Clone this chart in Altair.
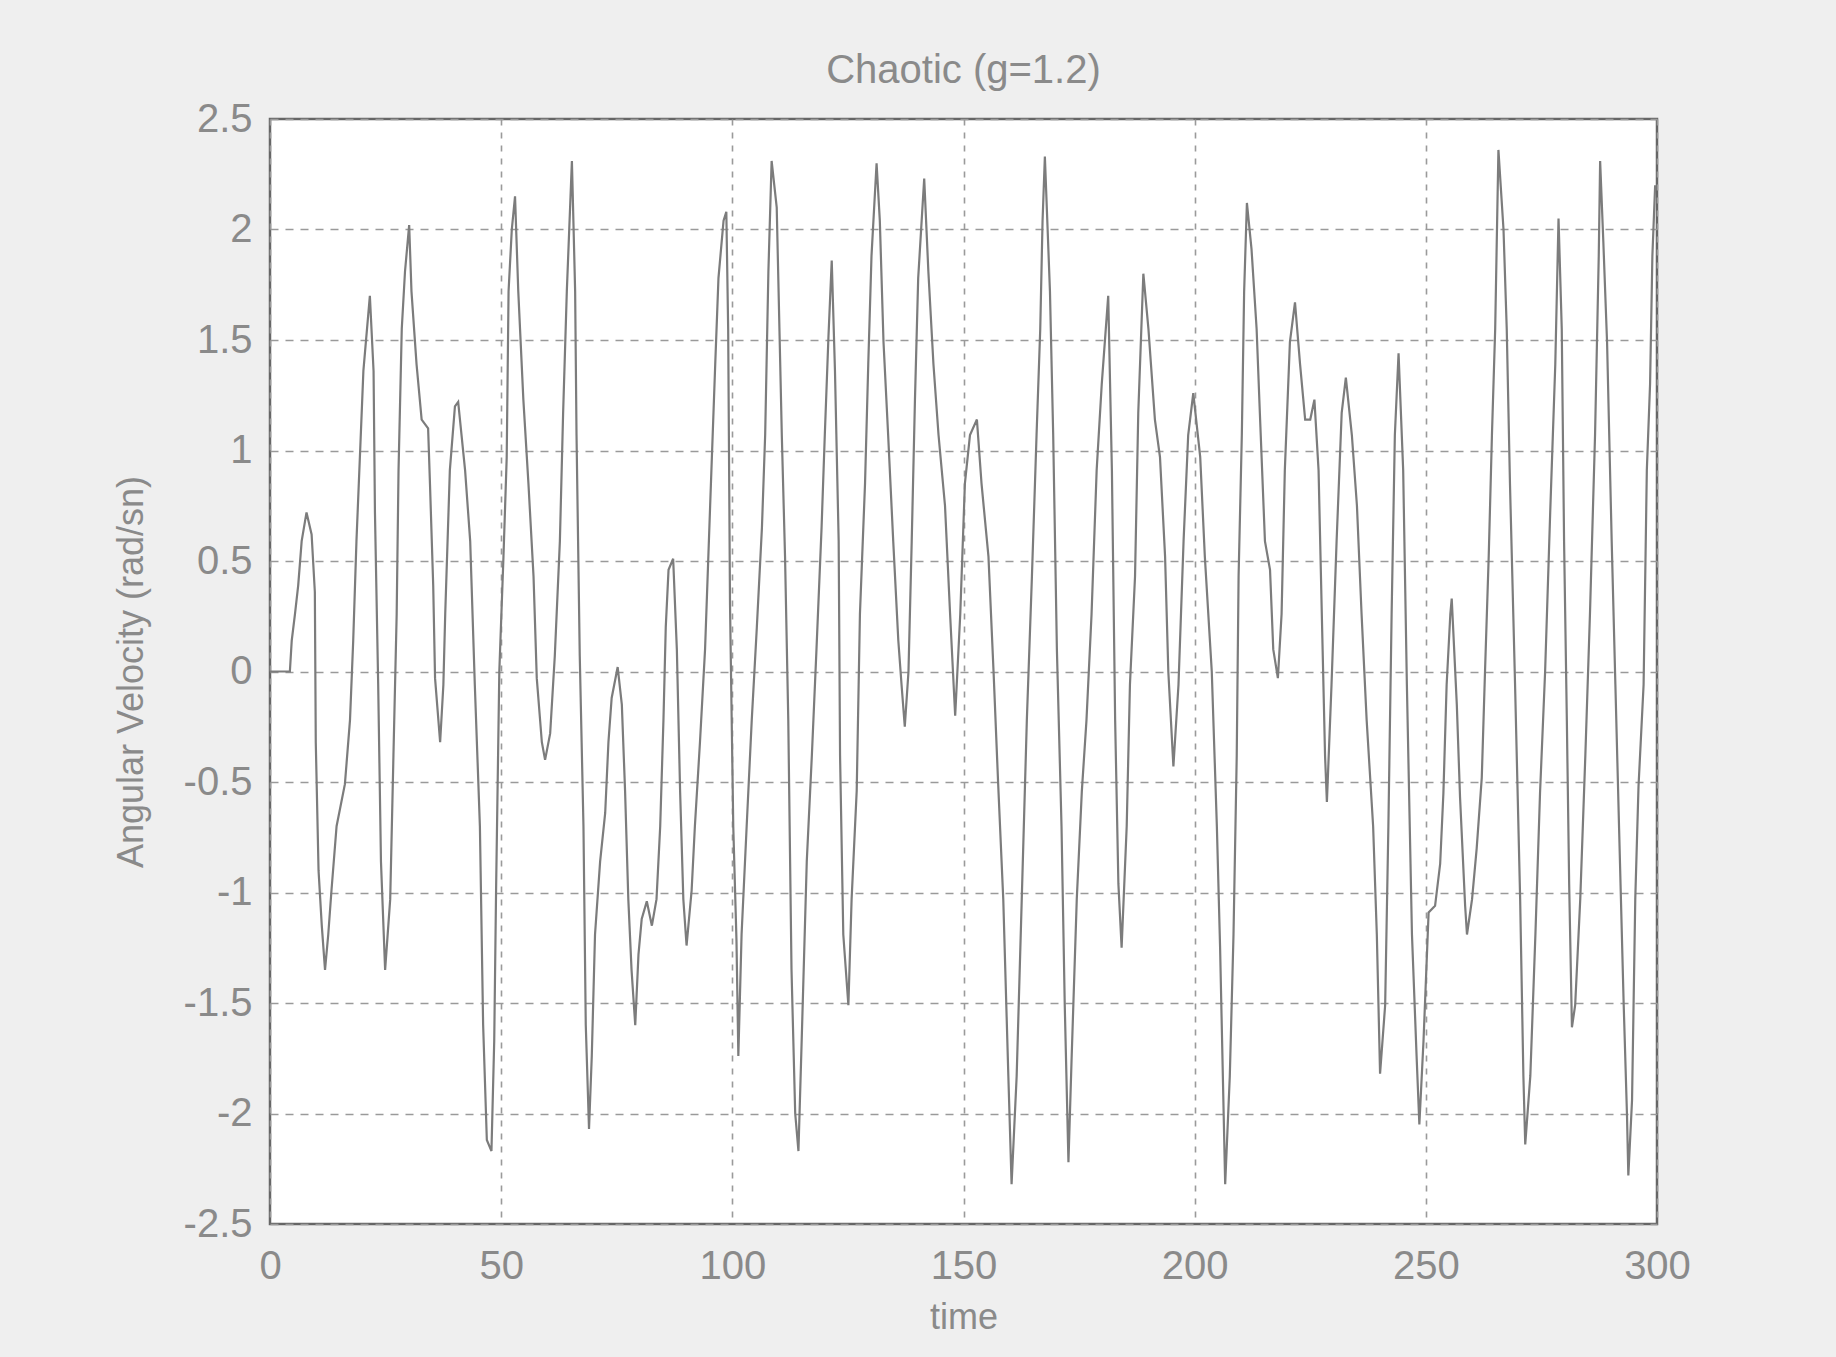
import altair as alt
import pandas as pd

title_text = "Chaotic (g=1.2)"
x_title = "time"
y_title = "Angular Velocity (rad/sn)"
x_ticks = [0, 50, 100, 150, 200, 250, 300]
y_ticks = [-2.5, -2, -1.5, -1, -0.5, 0, 0.5, 1, 1.5, 2, 2.5]

t_seg1 = [0, 4.3, 4.7, 5.4, 6.1, 6.85, 7.9, 9.0, 9.7, 9.9, 10.5, 11.2, 11.9, 12.6, 13.3, 14.4, 16.2,
          17.3, 18.0, 18.7, 19.5, 20.2, 21.6, 22.4, 22.7, 23.4, 24.0, 24.9, 26.0, 26.7, 27.4, 27.8,
          28.5, 29.2, 30.1, 30.6, 31.7, 32.8, 34.2, 34.6, 35.3, 35.7, 36.8, 37.5, 37.9, 38.9, 40.0,
          40.7, 42.2, 43.3, 44.3, 45.4, 46.1, 46.9, 47.9, 48.5]
v_seg1 = [0, 0, 0.14, 0.26, 0.39, 0.59, 0.72, 0.62, 0.36, -0.32, -0.9, -1.15, -1.35, -1.19, -0.99,
          -0.7, -0.51, -0.22, 0.14, 0.59, 1.0, 1.36, 1.7, 1.36, 0.72, -0.06, -0.86, -1.35, -1.03,
          -0.38, 0.26, 0.91, 1.55, 1.81, 2.02, 1.72, 1.39, 1.14, 1.1, 0.85, 0.39, -0.03, -0.32,
          -0.06, 0.26, 0.91, 1.2, 1.22, 0.91, 0.59, -0.06, -0.7, -1.6, -2.12, -2.17, -1.67]

t_seg2 = [48.9, 49.6, 50.5, 51.2, 51.6, 52.3, 53.0, 53.7, 54.8, 55.9, 57.0, 57.7, 58.8, 59.5, 60.6,
          61.6, 62.7, 63.4, 64.2, 65.3, 66.0, 66.3, 67.0, 67.8, 68.3, 69.0, 69.6, 70.3, 71.4, 72.5,
          73.2, 73.9, 75.2, 76.1, 76.8, 77.5, 78.2, 79.0, 79.7, 80.4, 81.5, 82.6, 83.6, 84.4, 85.1,
          85.6, 86.2, 87.2, 88.0, 88.7, 89.4, 90.1, 91.2, 91.9, 93.0, 94.1, 95.2, 96.3, 97.0, 98.1,
          98.7]
v_seg2 = [-0.99, 0.0, 0.52, 0.97, 1.72, 2.0, 2.15, 1.72, 1.23, 0.85, 0.43, -0.03, -0.32, -0.4,
          -0.28, 0.07, 0.59, 1.17, 1.72, 2.31, 1.72, 1.07, 0.07, -0.7, -1.6, -2.07, -1.74, -1.19,
          -0.86, -0.64, -0.32, -0.12, 0.02, -0.15, -0.54, -1.03, -1.35, -1.6, -1.28, -1.12, -1.04,
          -1.15, -1.03, -0.7, -0.22, 0.2, 0.46, 0.51, 0.1, -0.54, -1.03, -1.24, -0.99, -0.7, -0.32,
          0.1, 0.75, 1.39, 1.78, 2.04, 2.08]

t_seg3 = [99.1, 99.5, 100.2, 100.9, 101.3, 102.0, 103.1, 104.2, 105.3, 106.4, 107.1, 107.8, 108.5,
          109.6, 110.7, 111.4, 112.1, 112.8, 113.6, 114.3, 115.0, 116.1, 117.2, 118.2, 119.3,
          120.0, 120.8, 121.5, 122.2, 123.0, 123.3, 124.0, 125.1, 125.8, 126.9, 127.6, 128.7,
          129.4, 130.1, 131.2, 131.9, 132.7, 133.7, 134.8, 135.9, 136.6, 137.3, 138.1, 138.8,
          139.5, 140.2, 141.5, 142.4, 143.5, 144.6, 146.0, 147.1, 148.2]
v_seg3 = [1.55, 0.3, -0.7, -1.22, -1.74, -1.19, -0.7, -0.22, 0.2, 0.65, 1.07, 1.81, 2.31, 2.1,
          1.07, 0.52, -0.22, -1.35, -2.0, -2.17, -1.67, -0.86, -0.38, 0.1, 0.65, 1.07, 1.52, 1.86,
          1.36, 0.59, -0.38, -1.19, -1.51, -1.03, -0.54, 0.26, 0.85, 1.39, 1.88, 2.3, 2.04, 1.49,
          1.07, 0.59, 0.14, -0.06, -0.25, 0.0, 0.59, 1.23, 1.78, 2.23, 1.81, 1.39, 1.07, 0.75,
          0.26, -0.2]

t_seg4 = [149.3, 150.3, 151.4, 152.9, 153.9, 155.4, 156.5, 157.5, 158.6, 159.7, 160.4, 161.5,
          162.6, 163.7, 164.8, 165.8, 166.6, 167.1, 167.6, 168.7, 169.4, 170.2, 171.2, 171.9,
          172.7, 173.4, 174.5, 175.6, 176.6, 177.7, 178.8, 179.9, 181.3, 182.1, 182.8, 183.5,
          184.2, 185.3, 186.0, 187.1, 187.8, 188.9, 190.0, 191.4, 192.5, 193.6, 194.3, 195.4,
          196.5, 197.6, 198.6, 199.7]
v_seg4 = [0.26, 0.85, 1.07, 1.14, 0.85, 0.52, 0.0, -0.51, -1.03, -1.83, -2.32, -1.83, -1.03,
          -0.22, 0.43, 1.07, 1.55, 2.04, 2.33, 1.72, 1.07, 0.1, -0.7, -1.51, -2.22, -1.74, -1.03,
          -0.54, -0.22, 0.26, 0.91, 1.3, 1.7, 0.91, -0.22, -0.96, -1.25, -0.7, -0.06, 0.43, 1.17,
          1.8, 1.55, 1.14, 0.97, 0.52, 0.0, -0.43, -0.06, 0.59, 1.07, 1.26]

t_seg5 = [201.2, 202.2, 203.7, 204.8, 205.5, 206.6, 207.6, 208.4, 209.1, 209.5, 210.2, 210.7,
          211.3, 212.3, 213.4, 214.1, 215.2, 216.3, 217.0, 218.0, 218.8, 219.5, 220.6, 221.7,
          222.8, 223.9, 225.0, 225.9, 226.8, 227.5, 228.2, 228.6, 229.6, 230.7, 231.8, 232.7,
          234.0, 235.1, 236.1, 237.2, 238.6, 239.4, 240.1, 241.2, 241.9, 242.6, 243.3, 244.1,
          245.1, 245.9, 247.0, 248.0, 248.6]
v_seg5 = [0.97, 0.52, 0.0, -0.7, -1.25, -2.32, -1.83, -1.19, -0.38, 0.43, 1.07, 1.72, 2.12, 1.91,
          1.55, 1.17, 0.59, 0.46, 0.1, -0.03, 0.26, 0.91, 1.49, 1.67, 1.39, 1.14, 1.14, 1.23, 0.91,
          0.26, -0.38, -0.59, -0.06, 0.59, 1.17, 1.33, 1.07, 0.75, 0.26, -0.22, -0.7, -1.19, -1.82,
          -1.51, -0.7, 0.26, 1.07, 1.44, 0.91, -0.06, -1.19, -1.74, -2.05]

t_seg6 = [249.5, 250.6, 252.0, 253.1, 253.8, 254.5, 255.3, 255.6, 256.7, 257.4, 258.5, 258.9,
          260.0, 261.0, 262.1, 262.8, 263.6, 264.3, 265.0, 265.7, 266.8, 267.5, 268.2, 269.3,
          270.4, 271.1, 271.5, 272.6, 273.7, 274.7, 275.8, 276.9, 278.0, 278.7, 279.4, 279.9,
          280.5, 281.0, 281.6, 282.3, 283.4, 284.5, 285.5, 286.6, 287.4, 287.7, 288.4, 289.2,
          290.2, 291.0, 291.8, 292.8, 293.5, 293.8, 294.6, 295.3, 296.0, 297.1, 297.8, 298.5,
          299.0, 299.6]
v_seg6 = [-1.67, -1.09, -1.06, -0.87, -0.55, -0.06, 0.26, 0.33, -0.15, -0.57, -1.06, -1.19, -1.03,
          -0.8, -0.48, 0.0, 0.52, 1.07, 1.55, 2.36, 2.0, 1.55, 0.85, -0.06, -1.03, -1.83, -2.14,
          -1.83, -1.19, -0.55, 0.0, 0.72, 1.39, 2.05, 1.55, 0.59, -0.22, -0.96, -1.61, -1.51,
          -1.03, -0.38, 0.26, 1.07, 1.88, 2.31, 1.94, 1.49, 0.59, -0.06, -0.71, -1.51, -2.0, -2.28,
          -1.94, -1.03, -0.52, -0.06, 0.91, 1.3, 1.88, 2.2]

times = t_seg1 + t_seg2 + t_seg3 + t_seg4 + t_seg5 + t_seg6
values = v_seg1 + v_seg2 + v_seg3 + v_seg4 + v_seg5 + v_seg6
df = pd.DataFrame({"time": times, "w": values})

FONT = "Liberation Sans"
TXT = "#8a8a8a"
W, H = 1387, 1105

line = alt.Chart(df).mark_line(color="#7c7c7c", strokeWidth=2.2, interpolate="linear").encode(
    x=alt.X("time:Q", scale=alt.Scale(domain=[0, 300], nice=False, zero=False),
            axis=alt.Axis(values=x_ticks, title=x_title, labelExpr="'' + datum.value",
                          grid=True, gridColor="#9a9a9a", gridDash=[6, 7], gridWidth=1.6,
                          ticks=False, domain=False, labelPadding=22, labelFlush=False,
                          labelFont=FONT, labelFontSize=40, labelColor=TXT,
                          titleFont=FONT, titleFontSize=36, titleColor=TXT, titleFontWeight="normal",
                          titleX=W / 2, titleY=93, titleBaseline="middle", titleAlign="center")),
    y=alt.Y("w:Q", scale=alt.Scale(domain=[-2.5, 2.5], nice=False, zero=False),
            axis=alt.Axis(values=y_ticks, title=y_title, labelExpr="'' + datum.value",
                          grid=True, gridColor="#9a9a9a", gridDash=[8, 7], gridWidth=1.6,
                          ticks=False, domain=False, labelPadding=18, labelFlush=False,
                          labelFont=FONT, labelFontSize=40, labelColor=TXT,
                          titleFont=FONT, titleFontSize=36, titleColor=TXT, titleFontWeight="normal",
                          titleAngle=-90, titleX=-139, titleY=H / 2,
                          titleBaseline="middle", titleAlign="center")),
)

chart = line.properties(
    width=W, height=H,
    title=alt.TitleParams(title_text, font=FONT, fontSize=40, color=TXT, fontWeight="normal",
                          anchor="middle", offset=8),
    background="#efefef",
    padding={"left": 270, "top": 119, "right": 179, "bottom": 133},
    autosize=alt.AutoSizeParams(type="none"),
).configure_view(
    fill="#ffffff", stroke="#666666", strokeWidth=2.5
)

chart.save("out.html", embed_options={"renderer": "svg", "actions": False})
